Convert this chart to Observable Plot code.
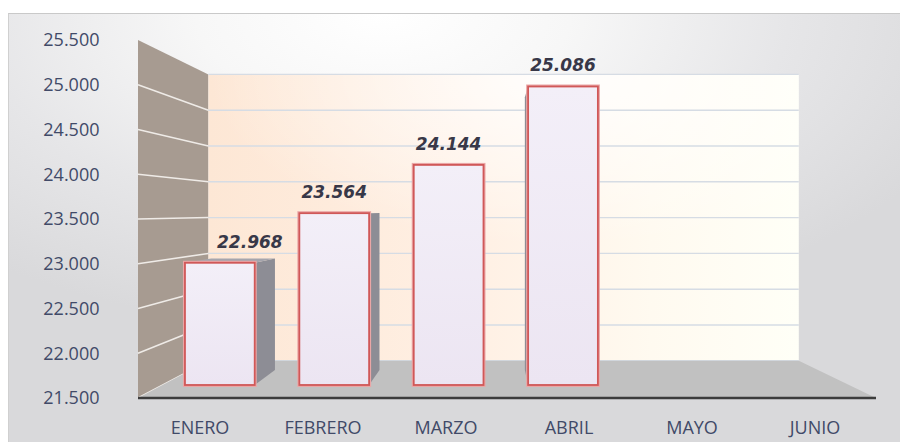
<!DOCTYPE html>
<html><head><meta charset="utf-8">
<script src="https://cdn.jsdelivr.net/npm/d3@7"></script>
<script src="https://cdn.jsdelivr.net/npm/@observablehq/plot@0.6"></script>
<style>
body{margin:0;background:#fff;width:900px;height:442px;overflow:hidden;position:relative;}
#bg{position:absolute;left:8px;top:13px;right:0;bottom:0;border-top:1.5px solid #c9c9c9;border-left:1.5px solid #d0d0d0;
background:radial-gradient(ellipse 70% 75% at 42% 0%, #ffffff 0%, #f7f7f7 30%, #e6e6e8 65%, #d9d9db 100%);}
#chart{position:absolute;left:0;top:0;}
</style>
</head><body><div id="bg"></div><div id="chart"></div>
<script>
const months = ["ENERO", "FEBRERO", "MARZO", "ABRIL", "MAYO", "JUNIO"];
const barMonths = ["ENERO", "FEBRERO", "MARZO", "ABRIL"];
const values = [22968, 23564, 24144, 25086];
const yTicks = [21500, 22000, 22500, 23000, 23500, 24000, 24500, 25000, 25500];
const yDomain = [21500, 25500];

const es = d3.formatLocale({decimal: ",", thousands: ".", grouping: [3], currency: ["", ""]});
const fmt = es.format(",d");
const data = barMonths.map((m, i) => ({month: m, value: values[i]}));

// 3D look (Excel-like perspective)
const VP = [490, 212];          // vanishing point
const F_BACK = 0.8;           // depth of back wall
const F_BAR1 = 0.93;          // depth of bar front face
const F_BAR2 = 0.85;          // depth of bar back face
const labelNudge = {ENERO: 30};

function scene(index, scales, vals, dims) {
  const X = scales.x, Y = scales.y;
  const bw = X.bandwidth();
  const x0 = dims.marginLeft, x1 = dims.width - dims.marginRight;
  const yb = Y(yDomain[0]), yt = Y(yDomain[1]);
  const P = (x, y, f) => [VP[0] + f * (x - VP[0]), VP[1] + f * (y - VP[1])];
  const pts = a => a.map(p => p.join(",")).join(" ");
  const g = d3.create("svg:g");
  const defs = g.append("defs");
  const lg = defs.append("linearGradient").attr("id", "wallg").attr("x1", 0).attr("x2", 1).attr("y1", 0).attr("y2", 0);
  [[0, "#fde7d5"], [0.45, "#fff0e4"], [0.75, "#fffaf0"], [1, "#fffff7"]].forEach(([o, c]) => lg.append("stop").attr("offset", o).attr("stop-color", c));
  const wg = defs.append("radialGradient").attr("id", "wallw").attr("cx", 0.6).attr("cy", 0).attr("r", 0.6);
  wg.append("stop").attr("offset", 0).attr("stop-color", "#ffffff").attr("stop-opacity", 0.9);
  wg.append("stop").attr("offset", 1).attr("stop-color", "#ffffff").attr("stop-opacity", 0);
  const fg = defs.append("linearGradient").attr("id", "faceg").attr("x1", 0).attr("x2", 0).attr("y1", 0).attr("y2", 1);
  fg.append("stop").attr("offset", 0).attr("stop-color", "#f3eff8");
  fg.append("stop").attr("offset", 1).attr("stop-color", "#ece5f2");

  // left wall
  g.append("polygon").attr("points", pts([P(x0, yt, 1), P(x0, yt, F_BACK), P(x0, yb, F_BACK), P(x0, yb, 1)])).attr("fill", "#a79b91");
  for (const t of yTicks.slice(0, -1)) {
    const a = P(x0, Y(t), 1), b = P(x0, Y(t), F_BACK);
    g.append("line").attr("x1", a[0]).attr("y1", a[1]).attr("x2", b[0]).attr("y2", b[1]).attr("stroke", "#efebe7").attr("stroke-width", 1.5);
  }
  // back wall
  const bl = P(x0, yt, F_BACK), br = P(x1, yb, F_BACK);
  g.append("rect").attr("x", bl[0]).attr("y", bl[1]).attr("width", br[0] - bl[0]).attr("height", br[1] - bl[1]).attr("fill", "url(#wallg)");
  g.append("rect").attr("x", bl[0]).attr("y", bl[1]).attr("width", br[0] - bl[0]).attr("height", br[1] - bl[1]).attr("fill", "url(#wallw)");
  for (const t of yTicks) {
    const a = P(x0, Y(t), F_BACK), b = P(x1, Y(t), F_BACK);
    g.append("line").attr("x1", a[0]).attr("y1", a[1]).attr("x2", b[0]).attr("y2", b[1]).attr("stroke", "#d6dce4").attr("stroke-width", 1.4);
  }
  // floor
  g.append("polygon").attr("points", pts([P(x0, yb, 1), P(x1, yb, 1), P(x1, yb, F_BACK), P(x0, yb, F_BACK)])).attr("fill", "#c1c1c1");
  g.append("line").attr("x1", x0).attr("x2", x1).attr("y1", yb).attr("y2", yb).attr("stroke", "#3c3c3c").attr("stroke-width", 2.5);

  // bars
  for (const d of data) {
    const xl = X(d.month), xr = xl + bw, ytop = Y(d.value);
    if (xr < VP[0]) {
      g.append("polygon").attr("points", pts([P(xr, ytop, F_BAR1), P(xr, ytop, F_BAR2), P(xr, yb, F_BAR2), P(xr, yb, F_BAR1)])).attr("fill", "#8d8d95");
    } else if (xl > VP[0]) {
      g.append("polygon").attr("points", pts([P(xl, ytop, F_BAR1), P(xl, ytop, F_BAR2), P(xl, yb, F_BAR2), P(xl, yb, F_BAR1)])).attr("fill", "#8d8d95");
    }
    if (ytop > VP[1]) {
      g.append("polygon").attr("points", pts([P(xl, ytop, F_BAR1), P(xr, ytop, F_BAR1), P(xr, ytop, F_BAR2), P(xl, ytop, F_BAR2)])).attr("fill", "#a5a5ad");
    }
    const a = P(xl, ytop, F_BAR1), b = P(xr, yb, F_BAR1);
    g.append("rect").attr("x", a[0]).attr("y", a[1]).attr("width", b[0] - a[0]).attr("height", b[1] - a[1])
      .attr("fill", "none").attr("stroke", "#eaa6a6").attr("stroke-width", 4);
    g.append("rect").attr("x", a[0]).attr("y", a[1]).attr("width", b[0] - a[0]).attr("height", b[1] - a[1])
      .attr("fill", "url(#faceg)").attr("stroke", "#d05858").attr("stroke-width", 1.8);
    const c = P(xl + bw / 2, ytop, F_BAR1);
    g.append("text").attr("x", c[0] + (labelNudge[d.month] || 0)).attr("y", c[1] - 15)
      .attr("text-anchor", "middle").attr("font-family", "DejaVu Sans").attr("font-weight", "bold").attr("font-style", "italic")
      .attr("font-size", 17).attr("fill", "#383848").text(fmt(d.value));
  }
  return g.node();
}

const plot = Plot.plot({
  width: 900,
  height: 442,
  marginLeft: 138,
  marginRight: 24,
  marginTop: 40,
  marginBottom: 44,
  style: {background: "transparent", fontFamily: "Open Sans", fontSize: "18px", color: "#414a68"},
  x: {type: "band", domain: months, paddingInner: 0.39, paddingOuter: 0.195, tickSize: 0, tickPadding: 23, label: null},
  y: {domain: yDomain, ticks: yTicks, tickFormat: fmt, tickSize: 0, tickPadding: 39, label: null},
  marks: [
    scene,
    Plot.dot(data, {x: "month", y: "value", r: 0, stroke: "none"})
  ]
});
document.getElementById("chart").appendChild(plot);
</script>
</body></html>
